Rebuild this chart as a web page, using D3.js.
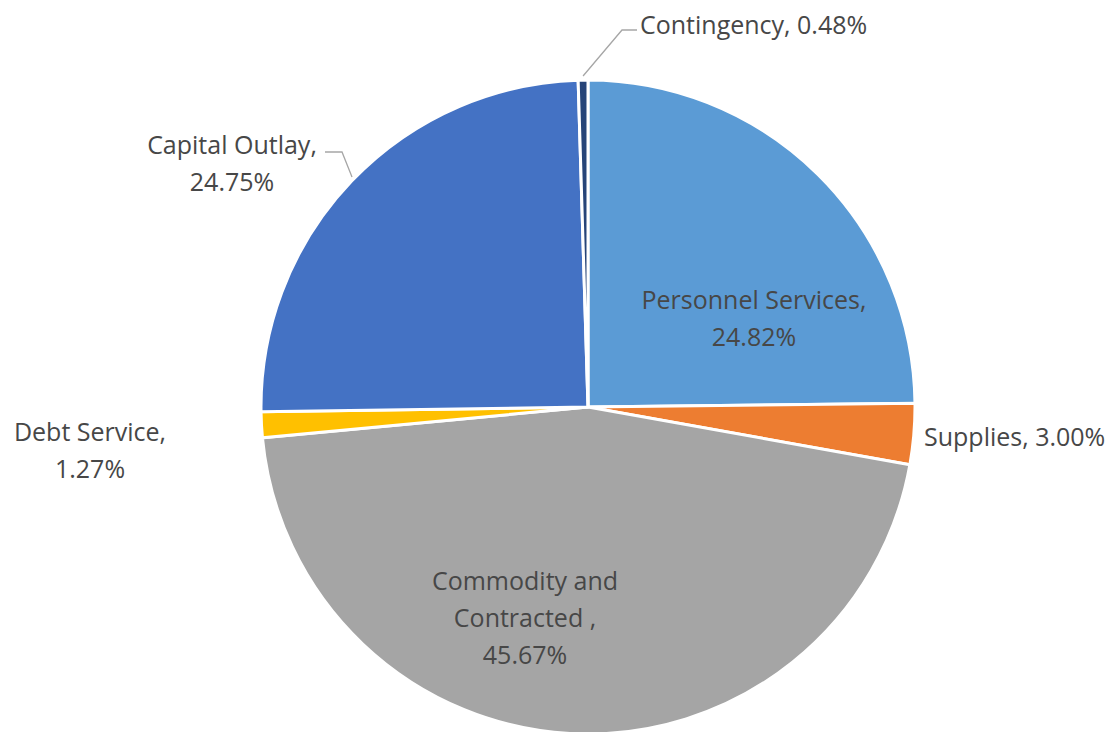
<!DOCTYPE html>
<html>
<head>
<meta charset="utf-8">
<script src="https://cdn.jsdelivr.net/npm/d3@7"></script>
<style>
  body { margin: 0; background: #fff; }
  text { font-family: "Open Sans", "Noto Sans", sans-serif; fill: #474747; }
</style>
</head>
<body>
<div id="chart"></div>
<script>
var categories = ["Personnel Services", "Supplies", "Commodity and Contracted ", "Debt Service", "Capital Outlay", "Contingency"];
var shares = [24.82, 3.00, 45.67, 1.27, 24.75, 0.48];
var colors = ["#5b9bd5", "#ed7d31", "#a5a5a5", "#ffc000", "#4472c4", "#264478"];

var width = 1117,
    height = 732,
    cx = 588,
    cy = 407,
    radius = 327;

var svg = d3.select("#chart").append("svg")
    .attr("width", width)
    .attr("height", height);

var g = svg.append("g")
    .attr("transform", "translate(" + cx + "," + cy + ")");

var pie = d3.pie()
    .sort(null)
    .value(function(d) { return d; });

var arc = d3.arc()
    .innerRadius(0)
    .outerRadius(radius);

var arcs = pie(shares);

g.selectAll("path.slice")
    .data(arcs)
    .enter().append("path")
    .attr("class", "slice")
    .attr("d", arc)
    .attr("fill", function(d, i) { return colors[i]; })
    .style("stroke", "#fff")
    .style("stroke-width", 3);

// label layout (offsets from pie centre), lines of each label
var labels = [
    {i: 0, x: 166, y: -107, lines: [categories[0] + ",", shares[0].toFixed(2) + "%"], anchor: "middle"},
    {i: 1, x: 336, y: 30, lines: [categories[1] + ", " + shares[1].toFixed(2) + "%"], anchor: "start"},
    {i: 2, x: -63, y: 174, lines: ["Commodity and", "Contracted ,", shares[2].toFixed(2) + "%"], anchor: "middle"},
    {i: 3, x: -498, y: 25, lines: [categories[3] + ",", shares[3].toFixed(2) + "%"], anchor: "middle"},
    {i: 4, x: -356, y: -262, lines: [categories[4] + ",", shares[4].toFixed(2) + "%"], anchor: "middle"},
    {i: 5, x: 52, y: -382, lines: [categories[5] + ", " + shares[5].toFixed(2) + "%"], anchor: "start"}
];

var lineH = 37;
labels.forEach(function(l) {
    var t = g.append("text")
        .attr("text-anchor", l.anchor)
        .style("font-size", "25px");
    l.lines.forEach(function(s, k) {
        t.append("tspan")
            .attr("x", l.x)
            .attr("y", l.y + k * lineH)
            .attr("dy", "0.35em")
            .text(s);
    });
});

// leader lines for the small top slices
function edgePoint(d) {
    var a = (d.startAngle + d.endAngle) / 2;
    return [Math.sin(a) * radius, -Math.cos(a) * radius];
}
var leader = d3.line();
var pC = edgePoint(arcs[5]);
g.append("path")
    .attr("d", leader([[pC[0], pC[1] - 4], [34, -377], [49, -377]]))
    .attr("fill", "none")
    .style("stroke", "#a6a6a6")
    .style("stroke-width", 1.3);

g.append("path")
    .attr("d", leader([[-236, -230], [-246, -255], [-263, -255]]))
    .attr("fill", "none")
    .style("stroke", "#a6a6a6")
    .style("stroke-width", 1.3);
</script>
</body>
</html>
